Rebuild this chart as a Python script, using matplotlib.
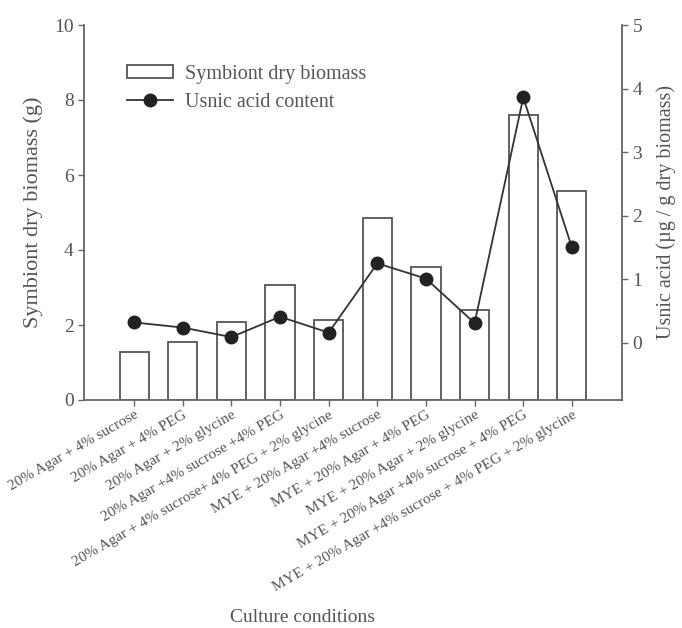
import matplotlib
matplotlib.use("Agg")
import matplotlib.pyplot as plt
import numpy as np

categories = [
    "20% Agar + 4% sucrose",
    "20% Agar + 4% PEG",
    "20% Agar + 2% glycine",
    "20% Agar +4% sucrose +4% PEG",
    "20% Agar + 4% sucrose+ 4% PEG + 2% glycine",
    "MYE + 20% Agar +4% sucrose",
    "MYE + 20% Agar + 4% PEG",
    "MYE + 20% Agar + 2% glycine",
    "MYE + 20% Agar +4% sucrose + 4% PEG",
    "MYE + 20% Agar +4% sucrose + 4% PEG + 2% glycine",
]
biomass = [1.29, 1.54, 2.09, 3.07, 2.13, 4.85, 3.55, 2.40, 7.60, 5.57]
usnic = [0.32, 0.24, 0.09, 0.41, 0.16, 1.25, 1.01, 0.31, 3.86, 1.50]
left_ticks = [0, 2, 4, 6, 8, 10]
right_ticks = [0, 1, 2, 3, 4, 5]

plt.rcParams['font.family'] = ['Liberation Serif', 'DejaVu Serif']
tc = '#555555'
sc = '#666666'

fig = plt.figure(figsize=(6.82, 6.28), dpi=100)
ax = fig.add_axes([84/682, 1-400/628, (622-84)/682, (400-25)/628])
x = np.arange(len(categories))
bars = ax.bar(x, biomass, width=0.6, facecolor='white', edgecolor='#555555',
              linewidth=1.3, label='Symbiont dry biomass', zorder=2)
ax.set_xlim(-1.03, 10.03)
ax.set_ylim(0, 10)
ax.set_yticks(left_ticks)
ax.set_xticks(x)
ax.set_xticklabels(categories, rotation=30, ha='right', va='top',
                   rotation_mode='anchor', fontsize=11, color=tc)
ax.tick_params(axis='y', labelsize=14, labelcolor=tc, color=sc, length=4, width=1)
ax.tick_params(axis='x', color=sc, length=4, width=1, pad=2)
ax.set_ylabel('Symbiont dry biomass (g)', fontsize=16, color=tc, labelpad=8)
fig.text(303/682, 1-617/628, 'Culture conditions', fontsize=14, color=tc,
         ha='center', va='center')
for s in ['left', 'bottom']:
    ax.spines[s].set_color(sc)
    ax.spines[s].set_linewidth(1.3)
for s in ['top', 'right']:
    ax.spines[s].set_visible(False)

ax2 = ax.twinx()
ax2.set_ylim(-0.9, 5)
ax2.set_yticks(right_ticks)
line, = ax2.plot(x, usnic, color='#333333', linewidth=1.3, marker='o',
                 markersize=9, markerfacecolor='#222222', markeredgecolor='#222222',
                 label='Usnic acid content', zorder=3)
ax2.tick_params(axis='y', labelsize=14, labelcolor=tc, color=sc, length=4, width=1)
ax2.set_ylabel('Usnic acid (µg / g dry biomass)', fontsize=14.5, color=tc, labelpad=10)
for s in ['left', 'top', 'bottom']:
    ax2.spines[s].set_visible(False)
ax2.spines['right'].set_color(sc)
ax2.spines['right'].set_linewidth(1.3)

leg = ax.legend([bars, line], ['Symbiont dry biomass', 'Usnic acid content'],
                loc='upper left', bbox_to_anchor=(0.065, 0.915), frameon=False,
                fontsize=14.5, handlelength=2.3, handleheight=0.6,
                labelspacing=0.45, handletextpad=0.6, borderaxespad=0)
for t in leg.get_texts():
    t.set_color(tc)

fig.savefig('out.png', dpi=100)
